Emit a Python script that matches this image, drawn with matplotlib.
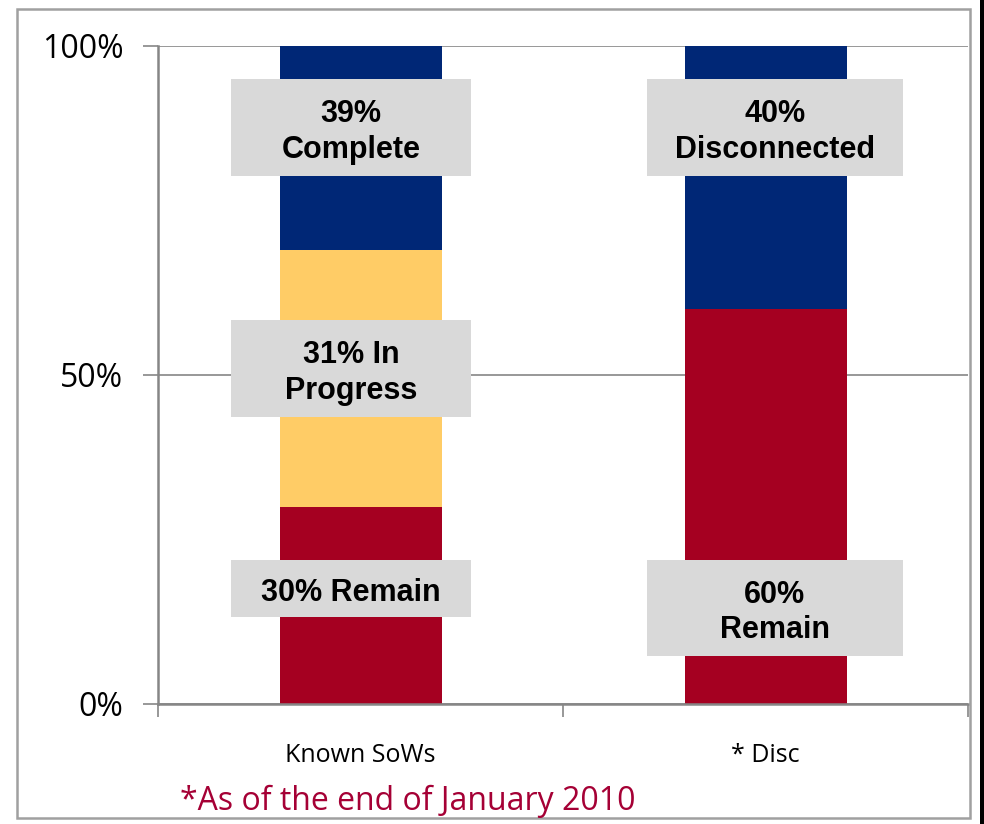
import matplotlib
matplotlib.use("Agg")
import matplotlib.pyplot as plt
from matplotlib.patches import Rectangle

# ---- data ----
categories = ["Known SoWs", "* Disc"]
remain = [30, 60]
in_progress = [39, 0]
complete = [31, 40]   # top segment: "Complete" for Known SoWs, "Disconnected" for Disc

label_texts = ["39%\nComplete", "31% In\nProgress", "30% Remain",
               "40%\nDisconnected", "60%\nRemain"]
label_cat = [0, 0, 0, 1, 1]
label_y = [87.6, 51.0, 17.6, 87.6, 14.6]
label_h = [14.8, 14.8, 8.7, 14.8, 14.7]
yticks = [0, 50, 100]
ytick_labels = ["0%", "50%", "100%"]
footnote = "*As of the end of January 2010"

c_red = "#A50021"
c_yellow = "#FFCC66"
c_navy = "#002776"
grid_c = "#868686"

W, H = 984, 824
fig = plt.figure(figsize=(W / 100, H / 100), dpi=100)
ax = fig.add_axes([158 / W, 1 - 704 / H, (968 - 158) / W, (704 - 46) / H])

x = list(range(len(categories)))
bw = 0.4
ax.bar(x, remain, bw, color=c_red, zorder=2)
ax.bar(x, in_progress, bw, bottom=remain, color=c_yellow, zorder=2)
bottom2 = [r + p for r, p in zip(remain, in_progress)]
ax.bar(x, complete, bw, bottom=bottom2, color=c_navy, zorder=2)

ax.set_xlim(-0.5, 1.5)
ax.set_ylim(0, 100)
ax.set_yticks(yticks)
ax.set_yticklabels(ytick_labels, fontname="Open Sans", fontsize=23)
ax.yaxis.grid(True, color=grid_c, linewidth=1.2, zorder=0)
ax.set_axisbelow(True)
ax.tick_params(axis="y", length=11, width=1.2, color=grid_c, pad=14)

ax.set_xticks(x)
ax.set_xticklabels(categories, fontname="Open Sans", fontsize=18)
ax.set_xticks([-0.5, 0.5, 1.5], minor=True)
ax.tick_params(axis="x", which="major", length=0, pad=28)
ax.tick_params(axis="x", which="minor", length=9, width=1.2, color=grid_c)

for s in ["top", "right"]:
    ax.spines[s].set_visible(False)
for s in ["left", "bottom"]:
    ax.spines[s].set_color(grid_c)
    ax.spines[s].set_linewidth(1.8)

# label boxes
box_w = [0.593, 0.593, 0.593, 0.632, 0.632]
box_dx = [-0.023, -0.023, -0.023, 0.023, 0.023]
for t, c, yc, h, bwid, dx in zip(label_texts, label_cat, label_y, label_h, box_w, box_dx):
    cx = c + dx
    ax.add_patch(Rectangle((cx - bwid / 2, yc - h / 2), bwid, h,
                           facecolor="#D9D9D9", edgecolor="none", zorder=3))
    ax.text(cx, yc - 0.7, t, ha="center", va="center", fontsize=22,
            fontweight="bold", fontname="Liberation Sans", zorder=4,
            linespacing=1.25)

fig.text(180 / W, 1 - 801 / H, footnote, ha="left", va="center",
         fontname="Open Sans", fontsize=23, color="#A50035")

# chart border
fig.add_artist(Rectangle((17 / W, 1 - 818 / H), (970 - 17) / W, (818 - 9) / H,
                         transform=fig.transFigure, fill=False,
                         edgecolor="#A0A0A0", linewidth=1.8))
fig.add_artist(Rectangle((980 / W, 0), 4 / W, 1, transform=fig.transFigure,
                         facecolor="black", edgecolor="none"))

fig.savefig("out.png", dpi=100)
